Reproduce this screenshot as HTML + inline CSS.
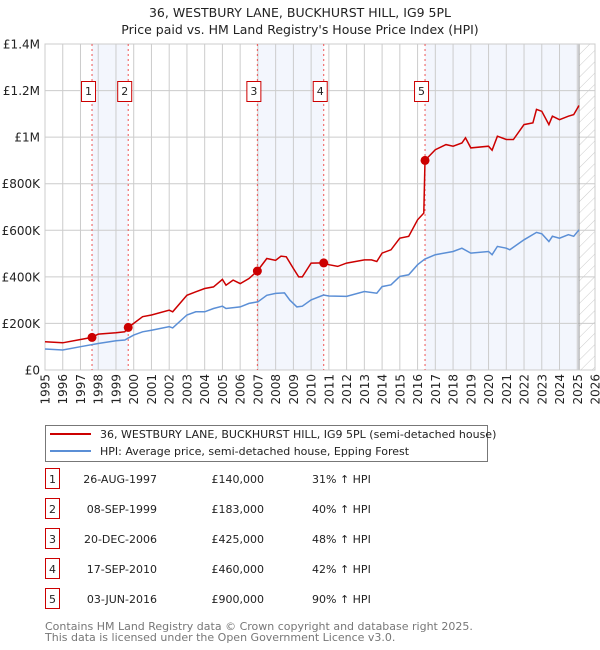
<!DOCTYPE html>
<html><head><meta charset="utf-8">
<style>
body{margin:0;background:#fff;font-family:"DejaVu Sans","Liberation Sans",sans-serif;}
#wrap{position:relative;width:600px;height:650px;overflow:hidden;}
svg text{font-family:"DejaVu Sans","Liberation Sans",sans-serif;}
</style></head>
<body>
<div id="wrap">
<svg id="chart" width="600" height="650"></svg>
</div>
<script>
const hpiYears=[1995,1996,1997,1998,1999,1999.5,2000,2000.5,2001,2002,2002.2,2003,2003.5,2004,2004.5,2005,2005.2,2006,2006.5,2007,2007.5,2008,2008.5,2008.8,2009.2,2009.5,2010,2010.7,2011,2012,2013,2013.7,2014,2014.5,2015,2015.5,2016,2016.4,2017,2018,2018.5,2019,2020,2020.2,2020.5,2021,2021.2,2022,2022.7,2023,2023.4,2023.6,2024,2024.5,2024.8,2025.1];
const hpiValues=[90,86,100,114,126,129,150,164,171,186,181,236,250,250,264,274,264,271,286,293,321,329,331,300,271,274,301,322,318,316,337,330,358,366,402,409,452,476,495,509,523,502,509,495,531,523,516,559,591,585,552,574,566,581,574,602];
const priceYears=[1995,1996,1997,1997.65,1998,1999,1999.5,1999.69,2000,2000.5,2001,2002,2002.2,2003,2003.5,2004,2004.5,2005,2005.2,2005.6,2006,2006.5,2006.97,2007.5,2008,2008.3,2008.6,2009,2009.3,2009.5,2010,2010.71,2011,2011.5,2012,2013,2013.4,2013.7,2014,2014.5,2015,2015.5,2016,2016.35,2016.42,2017,2017.6,2018,2018.5,2018.7,2019,2020,2020.2,2020.5,2021,2021.4,2022,2022.5,2022.7,2023,2023.4,2023.6,2024,2024.5,2024.8,2025.1];
const priceValues=[121,117,131,140,154,160,164,183,200,229,236,257,250,321,336,350,357,389,364,386,371,393,425,479,471,489,486,436,400,400,459,460,452,445,459,473,473,466,502,516,566,574,645,674,900,946,968,961,975,997,954,961,944,1004,990,990,1054,1061,1119,1111,1054,1090,1075,1090,1097,1136];
const saleLabels=["1","2","3","4","5"];
const saleYears=[1997.65,1999.69,2006.97,2010.71,2016.42];
const saleValues=[140,183,425,460,900];
const saleDates=["26-AUG-1997","08-SEP-1999","20-DEC-2006","17-SEP-2010","03-JUN-2016"];
const salePrices=["£140,000","£183,000","£425,000","£460,000","£900,000"];
const saleHpi=["31% ↑ HPI","40% ↑ HPI","48% ↑ HPI","42% ↑ HPI","90% ↑ HPI"];
const yTicks=[0,200,400,600,800,1000,1200,1400];
const yTickLabels=["£0","£200K","£400K","£600K","£800K","£1M","£1.2M","£1.4M"];
const xStart=1995,xEnd=2026,dataEnd=2025.1;

const L=45,R=595,T=44,B=370;
const X=y=>L+(y-xStart)/(xEnd-xStart)*(R-L);
const Y=v=>B-v/1400*(B-T);
const NS="http://www.w3.org/2000/svg";
const svg=document.getElementById('chart');
function mk(tag,attrs,parent){const e=document.createElementNS(NS,tag);for(const k in attrs)e.setAttribute(k,attrs[k]);(parent||svg).appendChild(e);return e;}

let t=mk('text',{x:300,y:17,'text-anchor':'middle','font-size':12.5,fill:'#222'});t.textContent="36, WESTBURY LANE, BUCKHURST HILL, IG9 5PL";


t=mk('text',{x:300,y:34,'text-anchor':'middle','font-size':12.5,fill:'#222'});t.textContent="Price paid vs. HM Land Registry's House Price Index (HPI)";



const bands=[[saleYears[0],saleYears[1]],[saleYears[2],saleYears[3]],[saleYears[4],dataEnd]];
bands.forEach(b=>{const r=mk('rect',{x:X(b[0]),y:T,width:X(b[1])-X(b[0]),height:B-T,fill:'#f3f6fd'});

});
const defs=mk('defs',{});
const pat=mk('pattern',{id:'hatch',width:8,height:8,patternUnits:'userSpaceOnUse',patternTransform:'rotate(45)'},defs);
mk('line',{x1:0,y1:0,x2:0,y2:8,stroke:'#ccc','stroke-width':1},pat);
let hr=mk('rect',{x:X(dataEnd),y:T,width:R-X(dataEnd),height:B-T,fill:'url(#hatch)'});



for(let yr=xStart;yr<=xEnd;yr++){mk('line',{x1:X(yr),y1:T,x2:X(yr),y2:B,stroke:'#ccc','stroke-width':1});
 const lb=mk('text',{x:0,y:0,'font-size':12,fill:'#222','text-anchor':'end',transform:`translate(${X(yr)+4.5},374) rotate(-90)`});lb.textContent=yr;
 
 }
yTicks.forEach((v,i)=>{mk('line',{x1:L,y1:Y(v),x2:R,y2:Y(v),stroke:'#ccc','stroke-width':1});
 const lb=mk('text',{x:40,y:Y(v)+4.5,'font-size':12,fill:'#222','text-anchor':'end'});lb.textContent=yTickLabels[i];
 
 });
mk('line',{x1:X(dataEnd),y1:T,x2:X(dataEnd),y2:B,stroke:'#999','stroke-width':1});
mk('rect',{x:L,y:T,width:R-L,height:B-T,fill:'none',stroke:'#ccc'});

saleYears.forEach((s,i)=>{mk('line',{x1:X(s),y1:T,x2:X(s),y2:B,stroke:'#e55','stroke-width':1,'stroke-dasharray':'2,3'});
 const g=mk('g',{});
 
 
 mk('rect',{x:X(s)-10.5,y:81.5,width:14,height:20,fill:'#fff',stroke:'#c00'},g);
 const tx=mk('text',{x:X(s)-3.5,y:95,'font-size':11,'text-anchor':'middle',fill:'#222'},g);tx.textContent=saleLabels[i];});
function path(xs,vs){return xs.map((x,i)=>(i?'L':'M')+X(x).toFixed(1)+','+Y(vs[i]).toFixed(1)).join(' ');}
let p=mk('path',{d:path(hpiYears,hpiValues),fill:'none',stroke:'#5b8fd6','stroke-width':1.5});


p=mk('path',{d:path(priceYears,priceValues),fill:'none',stroke:'#cc0000','stroke-width':1.5});


saleYears.forEach((s,i)=>{const c=mk('circle',{cx:X(s),cy:Y(saleValues[i]),r:4.5,fill:'#cc0000'});
 
 });

const lg=mk('g',{});


mk('rect',{x:45.5,y:425.5,width:442,height:36,fill:'#fff',stroke:'#777'},lg);
mk('line',{x1:50,y1:434,x2:91,y2:434,stroke:'#cc0000','stroke-width':2},lg);
mk('line',{x1:50,y1:451,x2:91,y2:451,stroke:'#5b8fd6','stroke-width':2},lg);
t=mk('text',{x:100,y:438,'font-size':11,fill:'#222'},lg);t.textContent="36, WESTBURY LANE, BUCKHURST HILL, IG9 5PL (semi-detached house)";


t=mk('text',{x:100,y:455,'font-size':11,fill:'#222'},lg);t.textContent="HPI: Average price, semi-detached house, Epping Forest";



saleLabels.forEach((lab,i)=>{const y=483+i*30;
 const g=mk('g',{});
 
 
 mk('rect',{x:45.5,y:y-14.5,width:14,height:20,fill:'#fff',stroke:'#c00'},g);
 let a=mk('text',{x:52.5,y:y,'font-size':11,'text-anchor':'middle',fill:'#222'},g);a.textContent=lab;
 a=mk('text',{x:157,y:y,'font-size':11,'text-anchor':'end',fill:'#222'},g);a.textContent=saleDates[i];
 a=mk('text',{x:264,y:y,'font-size':11,'text-anchor':'end',fill:'#222'},g);a.textContent=salePrices[i];
 a=mk('text',{x:312,y:y,'font-size':11,fill:'#222'},g);a.textContent=saleHpi[i];});

t=mk('text',{x:45,y:630,'font-size':11,fill:'#777'});t.textContent="Contains HM Land Registry data © Crown copyright and database right 2025.";


t=mk('text',{x:45,y:641,'font-size':11,fill:'#777'});t.textContent="This data is licensed under the Open Government Licence v3.0.";


</script>
</body></html>
